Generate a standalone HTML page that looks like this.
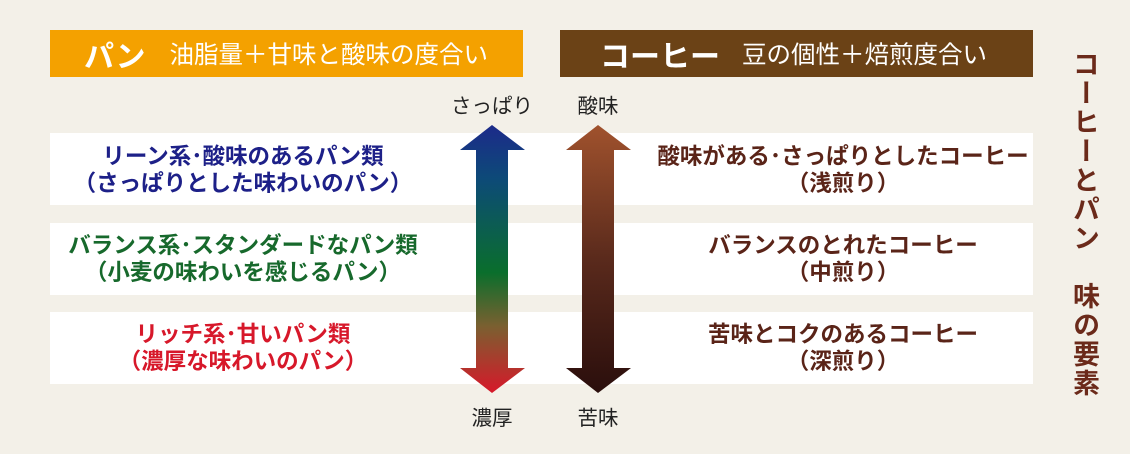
<!DOCTYPE html>
<html><head><meta charset="utf-8"><style>
body{margin:0;width:1130px;height:454px;background:#f3f0e8;position:relative;overflow:hidden;font-family:"Liberation Sans","Noto Sans CJK JP",sans-serif;}
.a{position:absolute;}
.hd{position:absolute;top:30px;height:47px;width:473px;color:#fff;display:flex;align-items:center;white-space:nowrap;}
.row{position:absolute;left:50px;width:983px;height:72px;background:#fff;}
.t{position:absolute;width:460px;text-align:center;font-weight:bold;font-size:22.5px;line-height:27px;white-space:nowrap;}
.lb{position:absolute;width:100px;text-align:center;font-size:20.5px;color:#222;}
</style></head><body>
<div class="hd" style="left:50px;background:#f4a100;"><span style="margin-left:34px;font-size:30px;font-weight:bold;">パン</span><span style="margin-left:24px;font-size:24.5px;">油脂量＋甘味と酸味の度合い</span></div>
<div class="hd" style="left:560px;background:#6b4216;"><span style="margin-left:40px;font-size:30px;font-weight:bold;">コーヒー</span><span style="margin-left:22px;font-size:24.5px;">豆の個性＋焙煎度合い</span></div>
<div class="row" style="top:133px"></div>
<div class="row" style="top:223px"></div>
<div class="row" style="top:312px"></div>
<div class="t" style="left:13px;top:143px;color:#1d2088">リーン系･酸味のあるパン類<br>（さっぱりとした味わいのパン）</div>
<div class="t" style="left:13px;top:232px;color:#17692c">バランス系･スタンダードなパン類<br>（小麦の味わいを感じるパン）</div>
<div class="t" style="left:13px;top:321px;color:#d7182a">リッチ系･甘いパン類<br>（濃厚な味わいのパン）</div>
<div class="t" style="left:613px;top:143px;color:#5a2418">酸味がある･さっぱりとしたコーヒー<br>（浅煎り）</div>
<div class="t" style="left:613px;top:232px;color:#5a2418">バランスのとれたコーヒー<br>（中煎り）</div>
<div class="t" style="left:613px;top:321px;color:#5a2418">苦味とコクのあるコーヒー<br>（深煎り）</div>
<div class="lb" style="left:442px;top:89px">さっぱり</div>
<div class="lb" style="left:548px;top:89px">酸味</div>
<div class="lb" style="left:442px;top:401px">濃厚</div>
<div class="lb" style="left:548px;top:401px">苦味</div>
<svg class="a" style="left:0;top:0" width="1130" height="454">
<defs>
<linearGradient id="g1" x1="0" y1="125" x2="0" y2="393" gradientUnits="userSpaceOnUse">
<stop offset="0" stop-color="#1c2a8a"/><stop offset="0.2" stop-color="#0d4a78"/><stop offset="0.55" stop-color="#0a6e2c"/><stop offset="0.75" stop-color="#7a6030"/><stop offset="1" stop-color="#d7182a"/></linearGradient>
<linearGradient id="g2" x1="0" y1="125" x2="0" y2="393" gradientUnits="userSpaceOnUse">
<stop offset="0" stop-color="#a0522d"/><stop offset="0.5" stop-color="#5a2a1c"/><stop offset="1" stop-color="#2a0e0c"/></linearGradient>
</defs>
<polygon fill="url(#g1)" points="492,125 525,150 508,150 508,368 525,368 492,393 460,368 476,368 476,150 460,150"/>
<polygon fill="url(#g2)" points="598,125 631,150 614,150 614,368 631,368 598,393 566,368 582,368 582,150 566,150"/>
</svg>
<div class="a" style="left:1068px;top:50px;width:32px;writing-mode:vertical-rl;font-size:27px;font-weight:bold;color:#6b2a1a;line-height:32px;letter-spacing:2px;">コーヒーとパン　味の要素</div>
</body></html>
